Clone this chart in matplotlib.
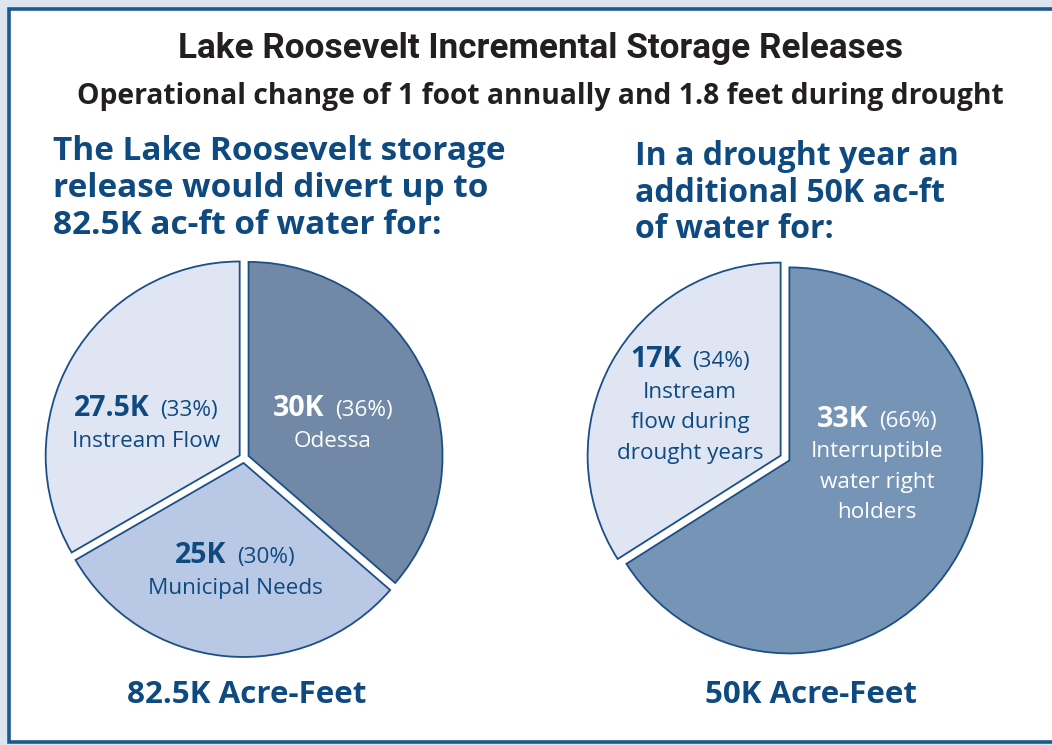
import matplotlib.pyplot as plt
from matplotlib.patches import Rectangle

plt.rcParams['font.family'] = ['Open Sans', 'DejaVu Sans']

# data (thousand acre-feet)
left_names = ['Odessa', 'Municipal Needs', 'Instream Flow']
left_values = [30, 25, 27.5]
left_pcts = [36, 30, 33]
left_total = '82.5K Acre-Feet'

right_names = ['Interruptible\nwater right\nholders', 'Instream\nflow during\ndrought years']
right_values = [33, 17]
right_pcts = [66, 34]
right_total = '50K Acre-Feet'

title = 'Lake Roosevelt Incremental Storage Releases'
subtitle = 'Operational change of 1 foot annually and 1.8 feet during drought'
left_head = ['The Lake Roosevelt storage', 'release would divert up to', '82.5K ac-ft of water for:']
right_head = ['In a drought year an', 'additional 50K ac-ft', 'of water for:']

# colours
PAGE = '#dde5f1'
FRAME = '#1a5a8f'
DARK = '#231f20'
BLUE = '#0e4a80'
EDGE = '#1c4f86'
left_colors = ['#7189a6', '#b8c8e5', '#dfe5f3']
right_colors = ['#7694b6', '#dfe5f3']
left_text = ['white', BLUE, BLUE]
right_text = ['white', BLUE]

W, H = 1052, 745
fig = plt.figure(figsize=(W / 100, H / 100), dpi=100, facecolor=PAGE)
ax = fig.add_axes([0, 0, 1, 1])
renderer = fig.canvas.get_renderer()


def Y(y):
    return H - y


def fit(t, target):
    w = t.get_window_extent(renderer).width
    t.set_fontsize(t.get_fontsize() * target / w)
    return t.get_fontsize()


ax.add_patch(Rectangle((9, Y(742)), 1100, 733, facecolor='white',
                       edgecolor=FRAME, linewidth=2.6, zorder=0))

# pies (explode is in pixels here since data units are pixels)
wp = dict(edgecolor=EDGE, linewidth=1.3)
ax.pie(left_values, colors=left_colors, startangle=90, counterclock=False,
       center=(244, Y(458)), radius=194, explode=[5] * 3, wedgeprops=wp)
ax.pie(right_values, colors=right_colors, startangle=90, counterclock=False,
       center=(785, Y(458)), radius=193, explode=[5] * 2, wedgeprops=wp)
ax.set_xlim(0, W)
ax.set_ylim(0, H)
ax.set_aspect('auto')
ax.set_axis_off()

# titles
t = ax.text(540, Y(58), title, fontsize=24, fontweight='bold', color=DARK,
            family=['Roboto', 'DejaVu Sans'], ha='center', va='baseline')
fit(t, 727)
t = ax.text(540, Y(104), subtitle, fontsize=18, fontweight='bold', color=DARK,
            ha='center', va='baseline')
fit(t, 930)


def heading(lines, x, y0, widest, step=37):
    ts = [ax.text(x, Y(y0 + i * step), s, fontsize=22, fontweight='bold',
                  color=BLUE, ha='left', va='baseline') for i, s in enumerate(lines)]
    fs = fit(ts[0], widest)
    for tt in ts[1:]:
        tt.set_fontsize(fs)


heading(left_head, 53, 160, 452)
heading(right_head, 635, 165, 322, step=36.5)

t = ax.text(247, Y(703), left_total, fontsize=20, fontweight='bold', color=BLUE,
            ha='center', va='baseline')
fit(t, 240)
t = ax.text(811, Y(703), right_total, fontsize=20, fontweight='bold', color=BLUE,
            ha='center', va='baseline')
fit(t, 212)

# label font sizes calibrated on "27.5K" and "Instream Flow"
tmp = ax.text(0, 0, '27.5K', fontsize=20, fontweight='bold')
fs_bold = fit(tmp, 76)
tmp.remove()
tmp = ax.text(0, 0, 'Instream Flow', fontsize=16)
fs_reg = fit(tmp, 148)
tmp.remove()


def slice_label(x, y, value, pct, name, color, step=30.5):
    t1 = ax.text(0, Y(y), f'{value:g}K', fontsize=fs_bold, fontweight='bold',
                 color=color, ha='left', va='baseline')
    t2 = ax.text(0, Y(y), f'({pct}%)', fontsize=fs_reg, color=color,
                 ha='left', va='baseline')
    w1 = t1.get_window_extent(renderer).width
    w2 = t2.get_window_extent(renderer).width
    gap = 11
    x0 = x - (w1 + gap + w2) / 2
    t1.set_x(x0)
    t2.set_x(x0 + w1 + gap)
    for i, line in enumerate(name.split('\n')):
        ax.text(x, Y(y + step * (i + 1)), line, fontsize=fs_reg, color=color,
                ha='center', va='baseline')


# label anchors (x centre, first baseline) in pixels
left_pos = [(333, 416), (235, 563), (146, 416)]
right_pos = [(877, 427), (690, 367)]

for (x, y), v, p, n, c in zip(left_pos, left_values, left_pcts, left_names, left_text):
    slice_label(x, y, v, p, n, c, step=31)
for (x, y), v, p, n, c in zip(right_pos, right_values, right_pcts, right_names, right_text):
    slice_label(x, y, v, p, n, c)

fig.savefig('out.png', dpi=100, facecolor=PAGE)
